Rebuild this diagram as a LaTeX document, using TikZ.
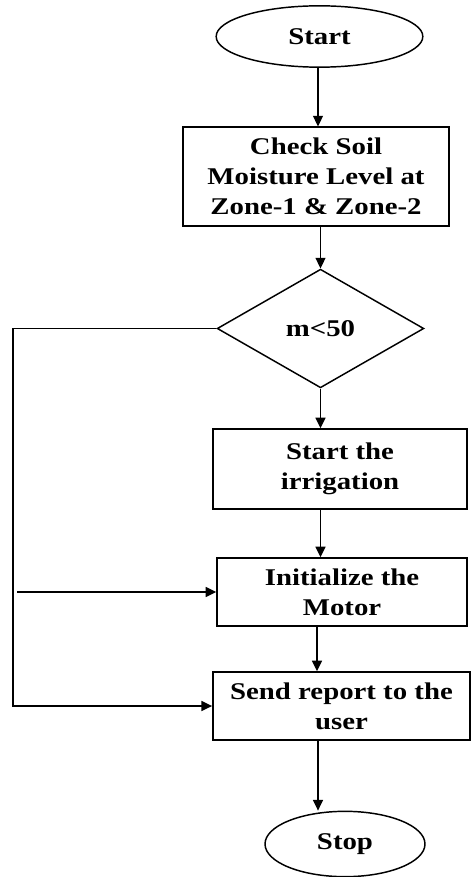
\documentclass[tikz,border=0pt]{standalone}
\usepackage{fontspec}
\setmainfont{Liberation Serif}[FakeStretch=1.2]
\usetikzlibrary{shapes.geometric,arrows.meta}

\tikzset{every picture/.style={line width=1.1pt}}
\tikzset{
  flowtext/.style={font=\fontsize{18}{22.5}\selectfont\bfseries, align=center, inner sep=0pt},
  termnode/.style={flowtext, draw, ellipse},
  procnode/.style={flowtext, draw, rectangle},
  decnode/.style={flowtext, draw, diamond},
  flowarrow/.style={-{Triangle[length=8pt,width=7.5pt]}}
}

\begin{document}
\begin{tikzpicture}[x=0.75pt,y=0.75pt,yscale=-1,xscale=1]
\useasboundingbox (0,0) rectangle (471,877);

%Shape: Ellipse [id:start]
\node [termnode, minimum width=155pt, minimum height=46pt] (start) at (319.5,36.5) {Start};
%Shape: Rectangle [id:check]
\node [procnode, minimum width=199.5pt, minimum height=74pt] (check) at (316,176.5) {Check Soil\\Moisture Level at\\Zone-1 \& Zone-2};
%Shape: Diamond [id:cond]
\node [decnode, minimum width=155pt, minimum height=89pt] (cond) at (320.5,328.5) {m<50};
%Shape: Rectangle [id:irrig]
\node [procnode, minimum width=190.5pt, minimum height=60pt] (irrig) at (340,469) {Start the\\irrigation};
%Shape: Rectangle [id:init]
\node [procnode, minimum width=187.5pt, minimum height=51pt] (init) at (342,592) {Initialize the\\Motor};
%Shape: Rectangle [id:send]
\node [procnode, minimum width=193pt, minimum height=51pt] (send) at (341.5,706) {Send report to the\\user};
%Shape: Ellipse [id:stop]
\node [termnode, minimum width=120pt, minimum height=49pt] (stop) at (345,844) {Stop};

%Left rail
\coordinate (rail) at (13,0);
\coordinate (railgap) at (17,0);

%Straight Lines
\draw [flowarrow] (start.south -| 318,0) -- (check.north -| 318,0);
\draw [flowarrow] (check.south -| cond.north) -- (cond.north);
\draw [flowarrow] (cond.south) -- (irrig.north -| cond.south);
\draw [flowarrow] (irrig.south -| cond.south) -- (init.north -| cond.south);
\draw [flowarrow] (init.south -| 317,0) -- (send.north -| 317,0);
\draw [flowarrow] (send.south -| 318,0) -- (stop.north -| 318,0);
%Loop back
\draw [flowarrow] (cond.west) -- (cond.west -| rail) -- (send.west -| rail) -- (send.west);
\draw [flowarrow] (init.west -| railgap) -- (init.west);

\end{tikzpicture}
\end{document}
